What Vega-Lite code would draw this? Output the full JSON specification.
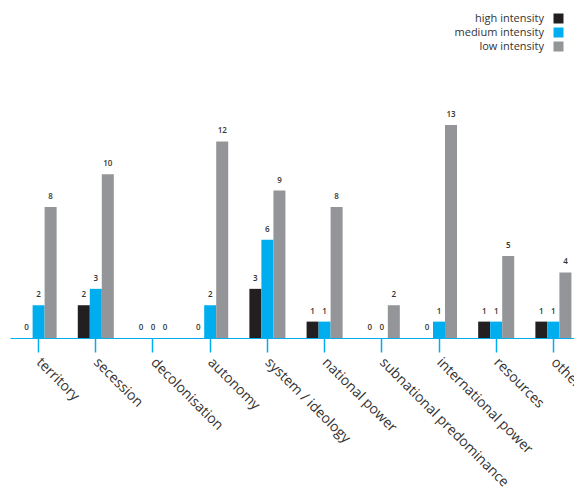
{
  "$schema": "https://vega.github.io/schema/vega-lite/v6.json",
  "autosize": {"type": "none"},
  "padding": {"left": 10, "top": 125, "right": 0, "bottom": 150},
  "width": 572,
  "height": 213,
  "config": {
    "view": {"stroke": null},
    "font": "Open Sans"
  },
  "data": {
    "values": [
      {"cause": "territory", "intensity": "high intensity", "count": 0},
      {"cause": "territory", "intensity": "medium intensity", "count": 2},
      {"cause": "territory", "intensity": "low intensity", "count": 8},
      {"cause": "secession", "intensity": "high intensity", "count": 2},
      {"cause": "secession", "intensity": "medium intensity", "count": 3},
      {"cause": "secession", "intensity": "low intensity", "count": 10},
      {"cause": "decolonisation", "intensity": "high intensity", "count": 0},
      {"cause": "decolonisation", "intensity": "medium intensity", "count": 0},
      {"cause": "decolonisation", "intensity": "low intensity", "count": 0},
      {"cause": "autonomy", "intensity": "high intensity", "count": 0},
      {"cause": "autonomy", "intensity": "medium intensity", "count": 2},
      {"cause": "autonomy", "intensity": "low intensity", "count": 12},
      {"cause": "system / ideology", "intensity": "high intensity", "count": 3},
      {"cause": "system / ideology", "intensity": "medium intensity", "count": 6},
      {"cause": "system / ideology", "intensity": "low intensity", "count": 9},
      {"cause": "national power", "intensity": "high intensity", "count": 1},
      {"cause": "national power", "intensity": "medium intensity", "count": 1},
      {"cause": "national power", "intensity": "low intensity", "count": 8},
      {"cause": "subnational predominance", "intensity": "high intensity", "count": 0},
      {"cause": "subnational predominance", "intensity": "medium intensity", "count": 0},
      {"cause": "subnational predominance", "intensity": "low intensity", "count": 2},
      {"cause": "international power", "intensity": "high intensity", "count": 0},
      {"cause": "international power", "intensity": "medium intensity", "count": 1},
      {"cause": "international power", "intensity": "low intensity", "count": 13},
      {"cause": "resources", "intensity": "high intensity", "count": 1},
      {"cause": "resources", "intensity": "medium intensity", "count": 1},
      {"cause": "resources", "intensity": "low intensity", "count": 5},
      {"cause": "other", "intensity": "high intensity", "count": 1},
      {"cause": "other", "intensity": "medium intensity", "count": 1},
      {"cause": "other", "intensity": "low intensity", "count": 4}
    ]
  },
  "encoding": {
    "x": {
      "field": "cause", "type": "nominal", "sort": null, "title": null,
      "scale": {"paddingInner": 0.37, "paddingOuter": 0.185},
      "axis": {
        "domainColor": "#00aeef", "domainWidth": 1.2,
        "tickColor": "#00aeef", "tickWidth": 1.5, "tickSize": 14,
        "labelAngle": 45, "labelAlign": "left", "labelBaseline": "middle",
        "labelFontSize": 14, "labelColor": "#333333", "labelPadding": 8,
        "labelLimit": 300, "labelOverlap": false
      }
    },
    "xOffset": {
      "field": "intensity", "type": "nominal",
      "scale": {"domain": ["high intensity", "medium intensity", "low intensity"], "paddingInner": 0, "paddingOuter": 0}
    },
    "y": {
      "field": "count", "type": "quantitative",
      "scale": {"domain": [0, 13], "nice": false},
      "axis": null
    }
  },
  "layer": [
    {
      "mark": {"type": "bar"},
      "encoding": {
        "color": {
          "field": "intensity", "type": "nominal",
          "scale": {
            "domain": ["high intensity", "medium intensity", "low intensity"],
            "range": ["#231f20", "#00aeef", "#939598"]
          },
          "legend": {
            "title": null, "orient": "none", "legendX": 543, "legendY": -112,
            "symbolType": "square", "symbolSize": 100, "symbolStrokeWidth": 0,
            "labelAlign": "right", "labelOffset": -20,
            "labelFontSize": 11, "labelColor": "#333333", "padding": 0,
            "rowPadding": 2
          }
        }
      }
    },
    {
      "mark": {"type": "text", "baseline": "bottom", "dy": -6, "fontSize": 8, "fontWeight": 600, "color": "#333333"},
      "encoding": {
        "text": {"field": "count", "type": "quantitative"}
      }
    }
  ]
}
